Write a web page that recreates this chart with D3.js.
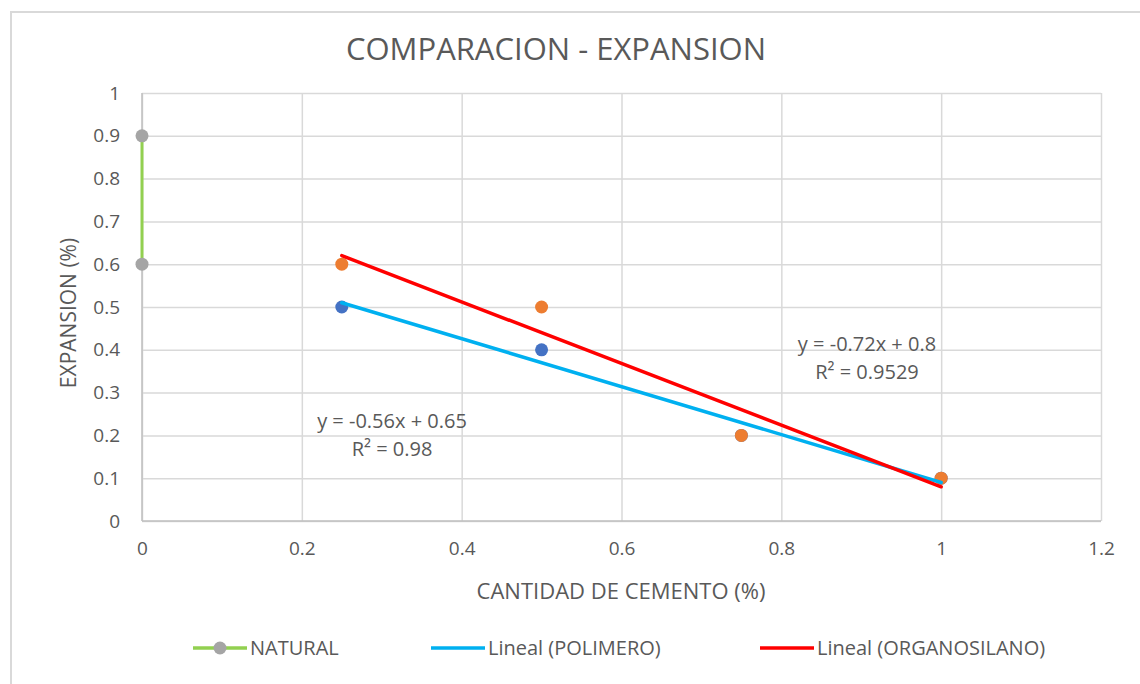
<!DOCTYPE html>
<html>
<head>
<meta charset="utf-8">
<script src="https://cdn.jsdelivr.net/npm/d3@7"></script>
<style>
  body{margin:0;background:#fff;}
  text{font-family:"Open Sans",sans-serif;fill:#595959;}
</style>
</head>
<body>
<div class="chart-container"></div>
<script>
// Data
const xNatural = [0, 0];
const yNatural = [0.9, 0.6];
const xCemento = [0.25, 0.5, 0.75, 1];
const yPolimero = [0.5, 0.4, 0.2, 0.1];
const yOrganosilano = [0.6, 0.5, 0.2, 0.1];
const xTicks = [0, 0.2, 0.4, 0.6, 0.8, 1, 1.2];
const yTicks = [0, 0.1, 0.2, 0.3, 0.4, 0.5, 0.6, 0.7, 0.8, 0.9, 1];
const eqPolimero = ['y = -0.56x + 0.65', 'R² = 0.98'];
const eqOrganosilano = ['y = -0.72x + 0.8', 'R² = 0.9529'];

// least squares, same as the excel trendline
function linReg(xs, ys){
    const mx = d3.mean(xs), my = d3.mean(ys);
    const sxy = d3.sum(xs, (x,i)=>(x-mx)*(ys[i]-my));
    const sxx = d3.sum(xs, x=>(x-mx)*(x-mx));
    const m = sxy/sxx;
    return {m:m, b:my-m*mx};
}

const svg_width = 1140, svg_height = 684;
const chart = {left:142, top:93, right:1101, bottom:521};

const svg = d3.select('.chart-container').append('svg')
    .attr('width', svg_width).attr('height', svg_height);

// chart border
svg.append('rect').attr('x',11).attr('y',12).attr('width',1160).attr('height',700)
    .attr('fill','none').attr('stroke','#d9d9d9').attr('stroke-width',2);

const xScale = d3.scaleLinear([0,1.2],[chart.left, chart.right]);
const yScale = d3.scaleLinear([0,1],[chart.bottom, chart.top]);

// gridlines
const xAxis = d3.axisBottom(xScale).tickValues(xTicks).tickFormat(d3.format('~g'))
    .tickSizeInner(-(chart.bottom-chart.top)).tickSizeOuter(0).tickPadding(21);
const yAxis = d3.axisLeft(yScale).tickValues(yTicks).tickFormat(d3.format('~g'))
    .tickSizeInner(-(chart.right-chart.left)).tickSizeOuter(0).tickPadding(22);

const xAxisDraw = svg.append('g').attr('transform',`translate(0,${chart.bottom})`).call(xAxis);
const yAxisDraw = svg.append('g').attr('transform',`translate(${chart.left},0)`).call(yAxis);
[xAxisDraw, yAxisDraw].forEach(ax=>{
    ax.select('.domain').remove();
    ax.selectAll('line').attr('stroke','#d9d9d9').attr('stroke-width',1.5);
    ax.selectAll('text').style('font-size','19px').attr('fill','#595959');
});
// axis lines a bit darker
svg.append('line').attr('x1',chart.left).attr('x2',chart.right)
    .attr('y1',chart.bottom).attr('y2',chart.bottom).attr('stroke','#bfbfbf').attr('stroke-width',1.5);
svg.append('line').attr('x1',chart.left).attr('x2',chart.left)
    .attr('y1',chart.top).attr('y2',chart.bottom).attr('stroke','#bfbfbf').attr('stroke-width',1.5);

// title + axis titles
svg.append('text').attr('x',556).attr('y',60).attr('text-anchor','middle')
    .style('font-size','31px').text('COMPARACION - EXPANSION');
svg.append('text').attr('x',621).attr('y',599).attr('text-anchor','middle')
    .style('font-size','22px').text('CANTIDAD DE CEMENTO (%)');
svg.append('text').attr('transform','translate(76,313) rotate(-90)').attr('text-anchor','middle')
    .style('font-size','21px').text('EXPANSION (%)');

// NATURAL series (line + grey markers)
const natural = xNatural.map((x,i)=>({x:x, y:yNatural[i]}));
svg.append('path').datum(natural)
    .attr('d', d3.line().x(d=>xScale(d.x)).y(d=>yScale(d.y)))
    .attr('fill','none').attr('stroke','#92d050').attr('stroke-width',3);
svg.selectAll('.nat').data(natural).join('circle').attr('class','nat')
    .attr('cx',d=>xScale(d.x)).attr('cy',d=>yScale(d.y)).attr('r',6.5).attr('fill','#a5a5a5');

// POLIMERO / ORGANOSILANO markers
const series = [
    {name:'POLIMERO', ys:yPolimero, dot:'#4472c4', trend:'#00b0f0', eq:eqPolimero, lx:392, ly:428},
    {name:'ORGANOSILANO', ys:yOrganosilano, dot:'#ed7d31', trend:'#ff0000', eq:eqOrganosilano, lx:867, ly:351}
];
series.forEach(s=>{
    svg.append('g').selectAll('circle').data(xCemento).join('circle')
        .attr('cx',d=>xScale(d)).attr('cy',(d,i)=>yScale(s.ys[i])).attr('r',6.5).attr('fill',s.dot);
});

// trendlines
series.forEach(s=>{
    const r = linReg(xCemento, s.ys);
    const ext = d3.extent(xCemento);
    svg.append('line')
        .attr('x1',xScale(ext[0])).attr('y1',yScale(r.m*ext[0]+r.b))
        .attr('x2',xScale(ext[1])).attr('y2',yScale(r.m*ext[1]+r.b))
        .attr('stroke',s.trend).attr('stroke-width',3.5).attr('stroke-linecap','round');
    const t = svg.append('text').attr('text-anchor','middle').style('font-size','20px');
    t.append('tspan').attr('x',s.lx).attr('y',s.ly).text(s.eq[0]);
    t.append('tspan').attr('x',s.lx).attr('y',s.ly+28).text(s.eq[1]);
});

// legend
const legend = [
    {label:'NATURAL', color:'#92d050', marker:'#a5a5a5', x:193},
    {label:'Lineal (POLIMERO)', color:'#00b0f0', marker:null, x:431},
    {label:'Lineal (ORGANOSILANO)', color:'#ff0000', marker:null, x:760}
];
const lg = svg.append('g').attr('transform','translate(0,648)');
legend.forEach(l=>{
    lg.append('line').attr('x1',l.x).attr('x2',l.x+54).attr('y1',0).attr('y2',0)
        .attr('stroke',l.color).attr('stroke-width',3.5);
    if(l.marker){
        lg.append('circle').attr('cx',l.x+27).attr('cy',0).attr('r',6.5).attr('fill',l.marker);
    }
    lg.append('text').attr('x',l.x+57).attr('y',7).style('font-size','20px').text(l.label);
});
</script>
</body>
</html>
